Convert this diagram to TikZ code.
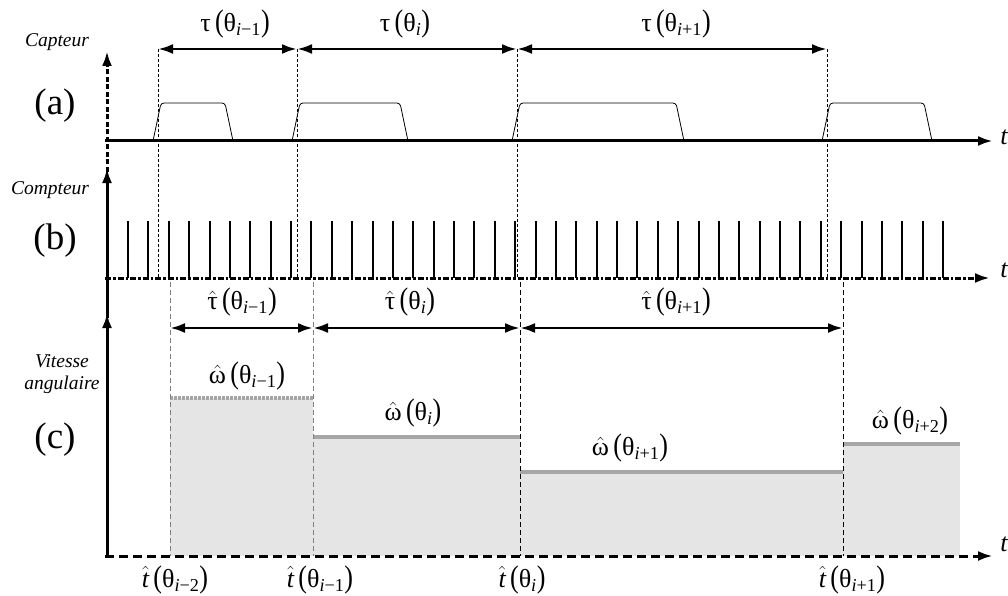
\documentclass[tikz,border=0pt]{standalone}
\usepackage{fontspec}
\setmainfont{Liberation Serif}
\usepackage{graphicx}
\usetikzlibrary{arrows.meta}
\newcommand{\myL}{\scalebox{1.0}[1.2]{(}}
\newcommand{\myR}{\scalebox{1.0}[1.2]{)}}
\newcommand{\sbi}[1]{\textsubscript{\itshape i\/\upshape #1}}
\newcommand{\hw}{$\hat{\mbox{ω}}$}
\newcommand{\htt}{$\hat{\mbox{\itshape t}}$}
\tikzset{
  ax/.style={line width=3pt, -{Latex[length=15pt,width=10pt]}},
  dim/.style={line width=2.8pt, {Latex[length=15pt,width=10pt]}-{Latex[length=15pt,width=10pt]}},
  guide/.style={line width=0.7pt, dash pattern=on 3pt off 2pt},
  guideg/.style={line width=0.8pt, gray, dash pattern=on 5pt off 3pt},
  guidec/.style={line width=0.8pt, dash pattern=on 5pt off 3pt},
  lab/.style={font=\fontsize{26}{28}\selectfont, inner sep=0pt},
  side/.style={font=\fontsize{19.5}{22}\selectfont\itshape, inner sep=0pt, align=center},
  big/.style={font=\fontsize{37}{40}\selectfont, inner sep=0pt},
  tl/.style={font=\fontsize{26}{28}\selectfont\itshape, inner sep=0pt},
  pulse/.style={line width=0.8pt, rounded corners=3pt},
  tick/.style={line width=2pt},
  level/.style={line width=4pt, gray!70},
  area/.style={fill=gray!20, draw=none},
}
\begin{document}
\begin{tikzpicture}[x=1pt,y=-1pt]
\useasboundingbox (0,0) rectangle (1008,596);
% key x coordinates
\coordinate (a0) at (158,49); \coordinate (a1) at (297,49);
\coordinate (a2) at (517,49); \coordinate (a3) at (827,49);
\coordinate (c0) at (170,328); \coordinate (c1) at (313,328);
\coordinate (c2) at (520,328); \coordinate (c3) at (843,328);

% grey areas
\fill[area] (170,398) rectangle (313,556);
\fill[area] (313,437) rectangle (520,556);
\fill[area] (520,472) rectangle (843,556);
\fill[area] (843,444) rectangle (960,556);
\draw[level, dash pattern=on 2.5pt off 1.5pt] (170,398) -- (313,398);
\draw[level] (313,437) -- (520,437);
\draw[level] (520,472) -- (843,472);
\draw[level] (843,444) -- (960,444);

% guide lines
\foreach \n/\x in {a0/158,a1/297,a2/517,a3/827}
  \draw[guide] (\n) -- (\x,278);
\draw[guideg] (170,282) -- (170,556);
\draw[guideg] (313,282) -- (313,556);
\draw[guidec] (520,282) -- (520,556);
\draw[guidec] (843,282) -- (843,556);

% sensor pulses
\foreach \r/\f in {153/233, 292/408, 512/684, 822/932}{
  \draw[pulse] (\r,141) -- (\r+8,103) -- (\f-8,103) -- (\f,141);
}
% counter ticks
\foreach \i in {0,...,40}{
  \pgfmathsetmacro{\xx}{128+20.375*\i}
  \draw[tick] (\xx,278) -- (\xx,221);
}

% axes
\draw[ax, dash pattern=on 5pt off 2.5pt] (107,172) -- (107,51);
\draw[ax] (107,279) -- (107,168);
\draw[line width=3pt] (107,318) -- (107,279);
\draw[ax] (107,557) -- (107,313);
\draw[ax] (105,141) -- (993,141);
\draw[ax, dash pattern=on 6pt off 2pt on 2.5pt off 2pt] (105,278) -- (990,278);
\draw[ax, dash pattern=on 9pt off 5pt] (105,556) -- (993,556);

\node[tl] (ta) at (1004,137) {t};
\node[tl] (tb) at (1004,270) {t};
\node[tl] (tc) at (1004,544) {t};

% dimension arrows
\draw[dim] (a0) -- (a1);
\draw[dim] (a1) -- (a2);
\draw[dim] (a2) -- (a3);
\draw[dim] (c0) -- (c1);
\draw[dim] (c1) -- (c2);
\draw[dim] (c2) -- (c3);

\node[lab] (l1) at (235,24) {τ\,\myL θ\sbi{−1}\myR};
\node[lab] (l2) at (405,24) {τ\,\myL θ\sbi{}\myR};
\node[lab] (l3) at (676,24) {τ\,\myL θ\sbi{+1}\myR};

\node[lab] (m1) at (242,302) {$\hat{\mbox{τ}}$\,\myL θ\sbi{−1}\myR};
\node[lab] (m2) at (410,302) {$\hat{\mbox{τ}}$\,\myL θ\sbi{}\myR};
\node[lab] (m3) at (676,302) {$\hat{\mbox{τ}}$\,\myL θ\sbi{+1}\myR};

\node[lab] (w1) at (247,376) {\hw\,\myL θ\sbi{−1}\myR};
\node[lab] (w2) at (413,413) {\hw\,\myL θ\sbi{}\myR};
\node[lab] (w3) at (630,448) {\hw\,\myL θ\sbi{+1}\myR};
\node[lab] (w4) at (910,421) {\hw\,\myL θ\sbi{+2}\myR};

\node[lab] (b1) at (175,580) {\htt\,\myL θ\sbi{−2}\myR};
\node[lab] (b2) at (320,580) {\htt\,\myL θ\sbi{−1}\myR};
\node[lab] (b3) at (522,580) {\htt\,\myL θ\sbi{}\myR};
\node[lab] (b4) at (852,580) {\htt\,\myL θ\sbi{+1}\myR};

% side labels
\node[side] (s1) at (57,42) {Capteur};
\node[big] (sa) at (55,106) {(a)};
\node[side] (s2) at (50,190) {Compteur};
\node[big] (sb) at (55,241) {(b)};
\node[side] (s3) at (62,374) {Vitesse\\angulaire};
\node[big] (sc) at (55,440) {(c)};
\end{tikzpicture}
\end{document}
